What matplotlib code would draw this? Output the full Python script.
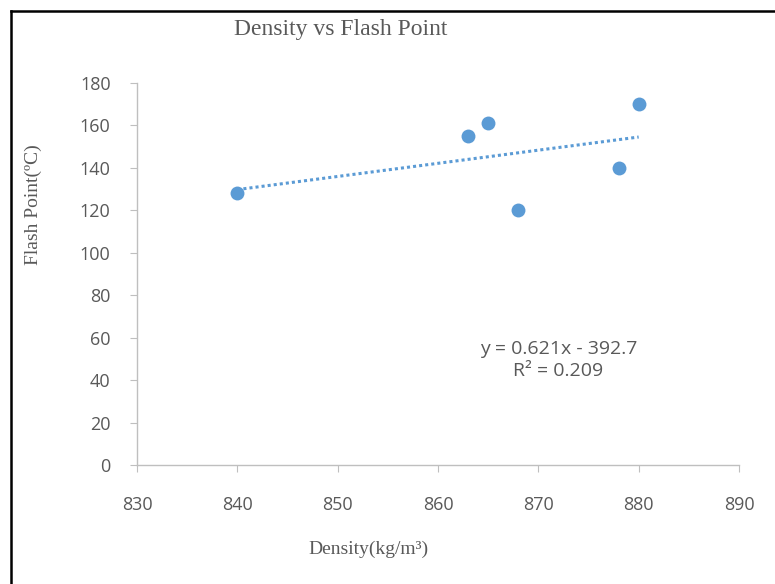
import numpy as np
import matplotlib
matplotlib.use('Agg')
import matplotlib.pyplot as plt
from matplotlib.lines import Line2D

# Data
density = [840, 863, 865, 868, 878, 880]
flash_point = [128, 155, 161, 120, 140, 170]
x_ticks = [830, 840, 850, 860, 870, 880, 890]
y_ticks = [0, 20, 40, 60, 80, 100, 120, 140, 160, 180]
equation_text = 'y = 0.621x - 392.7\nR² = 0.209'

blue = '#5B9BD5'
grey_text = '#595959'
axis_grey = '#BFBFBF'

fig = plt.figure(figsize=(7.75, 5.84), dpi=100)
ax = fig.add_axes([137 / 775, 1 - 465 / 584, (739 - 137) / 775, (465 - 83) / 584])

# Scatter points
ax.scatter(density, flash_point, s=100, color=blue, zorder=3, linewidths=0)

# Linear trendline over the data range
slope, intercept = np.polyfit(density, flash_point, 1)
xs = np.array([min(density), max(density)])
ax.plot(xs, slope * xs + intercept, color=blue, lw=2.2,
        linestyle=(0, (1, 1)), dash_capstyle='butt', zorder=2)

ax.text(872, 49.5, equation_text, ha='center', va='center', fontsize=14,
        color=grey_text, family='Open Sans', linespacing=1.3)

ax.set_xlim(830, 890)
ax.set_ylim(0, 180)
ax.set_xticks(x_ticks)
ax.set_yticks(y_ticks)

for side in ['top', 'right']:
    ax.spines[side].set_visible(False)
for side in ['left', 'bottom']:
    ax.spines[side].set_color(axis_grey)
    ax.spines[side].set_linewidth(1.0)

ax.tick_params(axis='x', length=5, color=axis_grey, pad=17, labelsize=13,
               labelcolor=grey_text)
ax.tick_params(axis='y', length=5, color=axis_grey, pad=14, labelsize=13,
               labelcolor=grey_text)
for lab in ax.get_xticklabels() + ax.get_yticklabels():
    lab.set_family('Open Sans')

# Titles in serif
fig.text(341 / 775, 1 - 30 / 584, 'Density vs Flash Point', ha='center', va='center',
         fontsize=17, family='Liberation Serif', color=grey_text)
fig.text(368 / 775, 1 - 549 / 584, 'Density(kg/m³)', ha='center', va='center',
         fontsize=14, family='Liberation Serif', color=grey_text)
fig.text(33 / 775, 1 - 205 / 584, 'Flash Point(ºC)', ha='center', va='center',
         rotation=90, fontsize=14, family='Liberation Serif', color=grey_text)

# Left and top frame border
fig.add_artist(Line2D([11 / 775, 11 / 775], [0, 1 - 11 / 584], transform=fig.transFigure,
                      color='black', lw=1.8))
fig.add_artist(Line2D([11 / 775, 1], [1 - 11 / 584, 1 - 11 / 584], transform=fig.transFigure,
                      color='black', lw=1.8))

fig.savefig('out.png', dpi=100)
